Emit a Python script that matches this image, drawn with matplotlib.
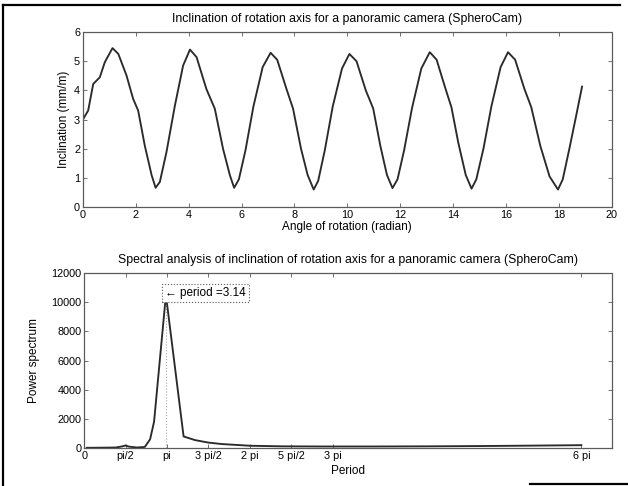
"""Inclination of a panoramic camera's rotation axis and its spectrum (scan look)."""
import numpy as np
import matplotlib
matplotlib.use("Agg")
import matplotlib.pyplot as plt            # noqa: E402
from matplotlib.lines import Line2D        # noqa: E402

plt.rcParams["font.family"] = ["Liberation Sans", "DejaVu Sans"]

# --- inclination vs angle of rotation -------------------------------------
ANGLE = [0.0, 0.2, 0.39, 0.64, 0.83, 1.12, 1.34, 1.65, 1.9, 2.09, 2.34, 2.6, 2.75,
         2.91, 3.16, 3.48, 3.79, 4.05, 4.3, 4.67, 4.99, 5.3, 5.56, 5.72,
         5.9, 6.15, 6.45, 6.8, 7.1, 7.35, 7.7, 7.95, 8.25, 8.5, 8.73,
         8.9, 9.15, 9.45, 9.8, 10.08, 10.35, 10.7, 10.98, 11.25, 11.5, 11.71,
         11.9, 12.15, 12.45, 12.8, 13.12, 13.38, 13.7, 13.94, 14.2, 14.48, 14.7,
         14.88, 15.15, 15.45, 15.8, 16.08, 16.35, 16.7, 16.96, 17.3, 17.65, 17.97,
         18.15, 18.4, 18.65, 18.88]
INCL = [3.0, 3.31, 4.22, 4.45, 4.97, 5.45, 5.25, 4.51, 3.71, 3.31, 2.11, 1.09, 0.66,
        0.86, 1.88, 3.48, 4.85, 5.4, 5.14, 4.05, 3.37, 2.0, 1.09, 0.66,
        0.95, 1.95, 3.45, 4.8, 5.29, 5.05, 4.05, 3.37, 2.0, 1.1, 0.6,
        0.9, 1.95, 3.45, 4.75, 5.25, 5.0, 4.0, 3.38, 2.1, 1.1, 0.65,
        0.95, 1.95, 3.4, 4.75, 5.31, 5.05, 4.1, 3.42, 2.2, 1.1, 0.63,
        0.95, 2.0, 3.45, 4.8, 5.31, 5.05, 4.05, 3.42, 2.1, 1.05, 0.6,
        0.95, 2.0, 3.1, 4.13]

# --- power spectrum vs period ----------------------------------------------
PERIOD = [0.1, 0.8, 1.2, 1.45, 1.57, 1.7, 2.0, 2.3, 2.5, 2.65, 3.1, 3.77, 4.2,
          4.7, 5.2, 6.3, 7.5, 9.0, 11.0, 13.0, 15.0, 17.0, 18.85]
POWER = [20, 30, 40, 120, 180, 100, 40, 80, 600, 1800, 10500, 800, 550,
         380, 280, 160, 120, 110, 110, 120, 140, 170, 200]
PEAK_PERIOD, PEAK_POWER = 3.1, 10500

PI_TICKS = [0, np.pi / 2, np.pi, 3 * np.pi / 2, 2 * np.pi, 5 * np.pi / 2, 3 * np.pi, 6 * np.pi]
PI_LABELS = ["0", "pi/2", "pi", "3 pi/2", "2 pi", "5 pi/2", "3 pi", "6 pi"]

INK, FRAME = "#2a2a2a", "#5a5a5a"
FS_TICK, FS_LAB, FS_TITLE = 7.8, 8.5, 8.8


def _style(ax):
    """MATLAB-ish boxed axes; the scan renders the frame as a dotted grey line."""
    for s in ax.spines.values():
        s.set_linestyle((0, (1, 1)))
        s.set_color(FRAME)
        s.set_linewidth(0.9)
    ax.tick_params(direction="in", length=3, width=0.6, color=FRAME, labelsize=FS_TICK,
                   top=True, right=True, pad=2)


fig = plt.figure(figsize=(6.28, 4.86), dpi=100)

ax1 = fig.add_axes([0.132, 0.574, 0.842, 0.360])
ax1.plot(ANGLE, INCL, color=INK, lw=1.35)
ax1.set_xlim(0, 20)
ax1.set_ylim(0, 6)
ax1.set_xticks(range(0, 21, 2))
ax1.set_yticks(range(0, 7))
ax1.set_title("Inclination of rotation axis for a panoramic camera (SpheroCam)",
              fontsize=FS_TITLE, pad=7)
ax1.set_xlabel("Angle of rotation (radian)", fontsize=FS_LAB, labelpad=1)
ax1.set_ylabel("Inclination (mm/m)", fontsize=FS_LAB, labelpad=3)
_style(ax1)

ax2 = fig.add_axes([0.134, 0.078, 0.840, 0.360])
ax2.plot([PEAK_PERIOD, PEAK_PERIOD], [0, PEAK_POWER], color="#aaaaaa", lw=0.8, ls=":")
ax2.plot(PERIOD, POWER, color=INK, lw=1.35)
ax2.plot([PEAK_PERIOD], [PEAK_POWER], "o", ms=2.5, color=INK)
ax2.text(PEAK_PERIOD - 0.02, PEAK_POWER + 150, "\u2190 period =3.14", fontsize=FS_LAB,
         ha="left", va="center",
         bbox=dict(boxstyle="square,pad=0.25", fc="white", ec=FRAME, ls=":", lw=0.8))
ax2.set_xlim(0, 20)
ax2.set_ylim(0, 12000)
ax2.set_xticks(PI_TICKS)
ax2.set_xticklabels(PI_LABELS)
ax2.set_yticks(range(0, 12001, 2000))
ax2.set_title("Spectral analysis of inclination of rotation axis for a panoramic camera (SpheroCam)",
              fontsize=FS_TITLE, pad=7)
ax2.set_xlabel("Period", fontsize=FS_LAB, labelpad=3)
ax2.set_ylabel("Power spectrum", fontsize=FS_LAB, labelpad=8)
_style(ax2)

# scanned page frame (left, top, and a stub of the bottom edge)
W, H = 628.0, 486.0
for xs, ys in (([3, 3], [5, 486]), ([3, 620], [5, 5]), ([530, 628], [484, 484])):
    fig.add_artist(Line2D([x / W for x in xs], [1 - y / H for y in ys],
                          transform=fig.transFigure, color="black", lw=1.6))

fig.savefig("out.png", dpi=100)
